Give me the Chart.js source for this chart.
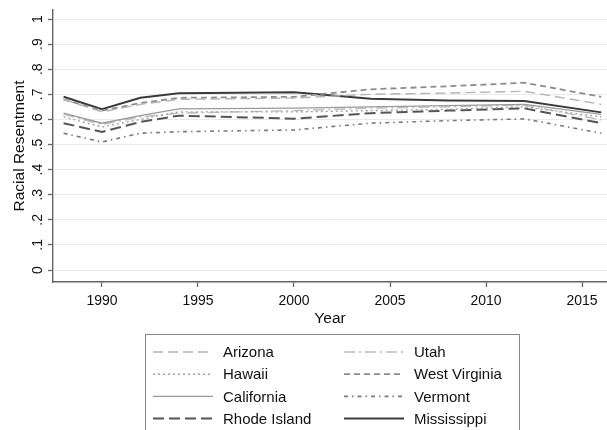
<!DOCTYPE html>
<html>
<head>
<meta charset="utf-8">
<script src="https://cdn.jsdelivr.net/npm/chart.js@4.4.1/dist/chart.umd.min.js"></script>
<style>
  html, body { margin: 0; padding: 0; background: #ffffff; }
  canvas { display: block; }
</style>
</head>
<body>
<canvas id="chart" width="607" height="430"></canvas>
<script>
// Survey years and mean racial resentment by state
const years = [1988, 1990, 1992, 1994, 2000, 2004, 2008, 2012, 2016];

const arizona      = [0.680, 0.630, 0.660, 0.680, 0.685, 0.700, 0.705, 0.712, 0.660];
const hawaii       = [0.610, 0.570, 0.600, 0.630, 0.630, 0.635, 0.640, 0.650, 0.610];
const california   = [0.625, 0.585, 0.615, 0.642, 0.645, 0.650, 0.655, 0.660, 0.620];
const rhodeIsland  = [0.585, 0.550, 0.590, 0.615, 0.603, 0.625, 0.635, 0.644, 0.585];
const utah         = [0.620, 0.580, 0.610, 0.625, 0.635, 0.645, 0.650, 0.657, 0.598];
const westVirginia = [0.680, 0.635, 0.665, 0.686, 0.690, 0.720, 0.732, 0.746, 0.690];
const vermont      = [0.545, 0.510, 0.545, 0.551, 0.558, 0.585, 0.595, 0.602, 0.545];
const mississippi  = [0.690, 0.641, 0.686, 0.704, 0.708, 0.682, 0.675, 0.673, 0.628];

const stateNames = ['Arizona', 'Hawaii', 'California', 'Rhode Island',
                    'Utah', 'West Virginia', 'Vermont', 'Mississippi'];
const stateValues = [arizona, hawaii, california, rhodeIsland,
                     utah, westVirginia, vermont, mississippi];

const xTicks = [1990, 1995, 2000, 2005, 2010, 2015];
const yTicks = [0, 0.1, 0.2, 0.3, 0.4, 0.5, 0.6, 0.7, 0.8, 0.9, 1];
const yTickLabels = ['0', '.1', '.2', '.3', '.4', '.5', '.6', '.7', '.8', '.9', '1'];

// Monochrome line styles, one per state
const lineStyles = {
  'Arizona':       { color: '#b4b4b4', width: 1.4, dash: [10, 5] },
  'Hawaii':        { color: '#a2a2a2', width: 1.4, dash: [2, 3] },
  'California':    { color: '#9a9a9a', width: 1.4, dash: [] },
  'Rhode Island':  { color: '#555555', width: 2.0, dash: [11, 5] },
  'Utah':          { color: '#bcbcbc', width: 1.4, dash: [11, 4, 2, 4] },
  'West Virginia': { color: '#8c8c8c', width: 1.8, dash: [6, 4] },
  'Vermont':       { color: '#7a7a7a', width: 1.6, dash: [4, 4, 1.5, 4] },
  'Mississippi':   { color: '#3a3a3a', width: 2.0, dash: [] }
};

const FONT = '"Liberation Sans", Arial, Helvetica, sans-serif';
const TEXT = '#111111';
const AXIS = '#666666';

const datasets = stateNames.map((name, i) => ({
  label: name,
  data: years.map((yr, j) => ({ x: yr, y: stateValues[i][j] })),
  borderColor: lineStyles[name].color,
  borderWidth: lineStyles[name].width,
  borderDash: lineStyles[name].dash,
  pointRadius: 0,
  fill: false,
  tension: 0
}));

// Rotated y tick labels, placed from the y scale
const yLabelPlugin = {
  id: 'yLabels',
  afterDraw(chart) {
    const s = chart.scales.y;
    const ctx = chart.ctx;
    ctx.save();
    ctx.font = '14px ' + FONT;
    ctx.fillStyle = TEXT;
    ctx.textAlign = 'center';
    ctx.textBaseline = 'middle';
    s.ticks.forEach(t => {
      const py = s.getPixelForValue(t.value);
      ctx.save();
      ctx.translate(38, py);
      ctx.rotate(-Math.PI / 2);
      ctx.fillText(t.label, 0, 0);
      ctx.restore();
    });
    ctx.restore();
  }
};

// Boxed two-column legend under the plot
const boxLegendPlugin = {
  id: 'boxLegend',
  afterDraw(chart) {
    const ctx = chart.ctx;
    ctx.save();
    ctx.strokeStyle = '#8a8a8a';
    ctx.lineWidth = 1;
    ctx.strokeRect(145.5, 334.5, 374, 120);
    chart.data.datasets.forEach((ds, i) => {
      const col = Math.floor(i / 4);
      const row = i % 4;
      const y = 352 + row * 22.2;
      const x0 = col ? 344 : 153;
      ctx.setLineDash(ds.borderDash || []);
      ctx.strokeStyle = ds.borderColor;
      ctx.lineWidth = ds.borderWidth;
      ctx.beginPath();
      ctx.moveTo(x0, y);
      ctx.lineTo(x0 + 60, y);
      ctx.stroke();
      ctx.setLineDash([]);
      ctx.fillStyle = TEXT;
      ctx.font = '15px ' + FONT;
      ctx.textAlign = 'left';
      ctx.textBaseline = 'middle';
      ctx.fillText(ds.label, col ? 414 : 223, y + 1);
    });
    ctx.restore();
  }
};

new Chart(document.getElementById('chart'), {
  type: 'line',
  data: { datasets },
  options: {
    responsive: false,
    animation: false,
    layout: { padding: { top: 10, right: 0, bottom: 100, left: 0 } },
    plugins: {
      legend: { display: false },
      tooltip: { enabled: false }
    },
    scales: {
      x: {
        type: 'linear',
        min: 1987.45,
        max: 2016.3,
        afterBuildTicks: s => { s.ticks = xTicks.map(v => ({ value: v })); },
        afterFit: s => { s.height = 48; },
        ticks: {
          padding: 6,
          color: TEXT,
          font: { family: FONT, size: 14 },
          maxRotation: 0,
          callback: v => String(v)
        },
        grid: {
          drawOnChartArea: false,
          drawTicks: true,
          tickLength: 5,
          tickColor: AXIS,
          tickWidth: 1.3
        },
        border: { display: true, color: AXIS, width: 1.4 },
        title: {
          display: true,
          text: 'Year',
          color: TEXT,
          font: { family: FONT, size: 15.5 },
          padding: { top: 0, bottom: 2 }
        }
      },
      y: {
        type: 'linear',
        min: -0.0478,
        max: 1.0359,
        afterBuildTicks: s => { s.ticks = yTicks.map(v => ({ value: v })); },
        afterFit: s => { s.width = 53; },
        ticks: {
          display: false,
          callback: (v, i) => yTickLabels[i]
        },
        grid: {
          color: '#e6eced',
          lineWidth: 1,
          drawTicks: true,
          tickLength: 5,
          tickColor: AXIS,
          tickWidth: 1.3
        },
        border: { display: true, color: AXIS, width: 1.4 },
        title: {
          display: true,
          text: 'Racial Resentment',
          color: TEXT,
          font: { family: FONT, size: 15.5 },
          padding: { top: 10, bottom: 0 }
        }
      }
    }
  },
  plugins: [yLabelPlugin, boxLegendPlugin]
});
</script>
</body>
</html>
